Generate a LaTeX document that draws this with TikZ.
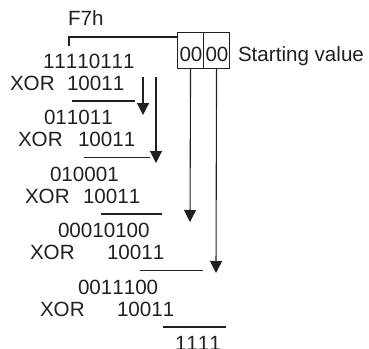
\documentclass[tikz,border=0pt]{standalone}
\usepackage{fontspec}
\setmainfont{Liberation Sans}[Kerning=Off]
\usetikzlibrary{arrows.meta}
\definecolor{ink}{RGB}{35,31,32}
\tikzset{
  txt/.style={anchor=base west, inner sep=0pt, outer sep=0pt, text=ink},
  rule/.style={draw=ink, line width=1.1pt},
  down/.style={draw=ink, line width=1.1pt, -{Triangle[width=12pt,length=12pt]}},
  cell/.style={draw=ink, line width=1.1pt, minimum width=26pt, minimum height=36pt, inner sep=0pt, anchor=north west}
}
\begin{document}
\begin{tikzpicture}[x=1pt,y=-1pt,font=\fontsize{20.6}{24}\selectfont]
\useasboundingbox (0,0) rectangle (369,348);
% register
\node[cell] (bl) at (177,32) {};
\node[cell] (br) at (203,32) {};
\node[txt] (bz) at (179.5,61) {00};
\node[txt] (rz) at (205.5,61) {00};
\node[txt] (sv) at (238,61) {Starting value};
\node[txt] (f7) at (68,25) {F7h};
\coordinate (tk) at (69,46);
\draw[rule] (tk) |- ([yshift=-5pt]bl.north west);
% division rows
\node[txt] (n1) at (43,68) {11110111};
\node[txt] (x1) at (10,90) {XOR};
\node[txt] (d1) at (67,90) {10011};
\coordinate (u1a) at (72,101); \coordinate (u1b) at (135,101);
\draw[rule] (u1a) -- (u1b);
\node[txt] (n2) at (44,124.5) {011011};
\node[txt] (x2) at (18,146.5) {XOR};
\node[txt] (d2) at (78,146.5) {10011};
\coordinate (u2a) at (84,157.5); \coordinate (u2b) at (150,157.5);
\draw[rule] (u2a) -- (u2b);
\node[txt] (n3) at (50,181) {010001};
\node[txt] (x3) at (25,203) {XOR};
\node[txt] (d3) at (83,203) {10011};
\coordinate (u3a) at (101,214); \coordinate (u3b) at (162,214);
\draw[rule] (u3a) -- (u3b);
\node[txt] (n4) at (58,237.5) {00010100};
\node[txt] (x4) at (30,259.5) {XOR};
\node[txt] (d4) at (107,259.5) {10011};
\coordinate (u4a) at (140,270.5); \coordinate (u4b) at (203,270.5);
\draw[rule] (u4a) -- (u4b);
\node[txt] (n5) at (78,294) {0011100};
\node[txt] (x5) at (40,316) {XOR};
\node[txt] (d5) at (117,316) {10011};
\coordinate (u5a) at (163,327); \coordinate (u5b) at (226,327);
\draw[rule] (u5a) -- (u5b);
\node[txt] (n6) at (175,350.5) {1111};
% arrows
\coordinate (a1s) at (143,77); \coordinate (a1e) at (143,115);
\coordinate (a2s) at (156,77); \coordinate (a2e) at (156,163);
\coordinate (a3e) at (190,222);
\coordinate (a4e) at (216,273);
\draw[down] (a1s) -- (a1e);
\draw[down] (a2s) -- (a2e);
\draw[down] (bl.south) -- (a3e);
\draw[down] (br.south) -- (a4e);
\end{tikzpicture}
\end{document}
